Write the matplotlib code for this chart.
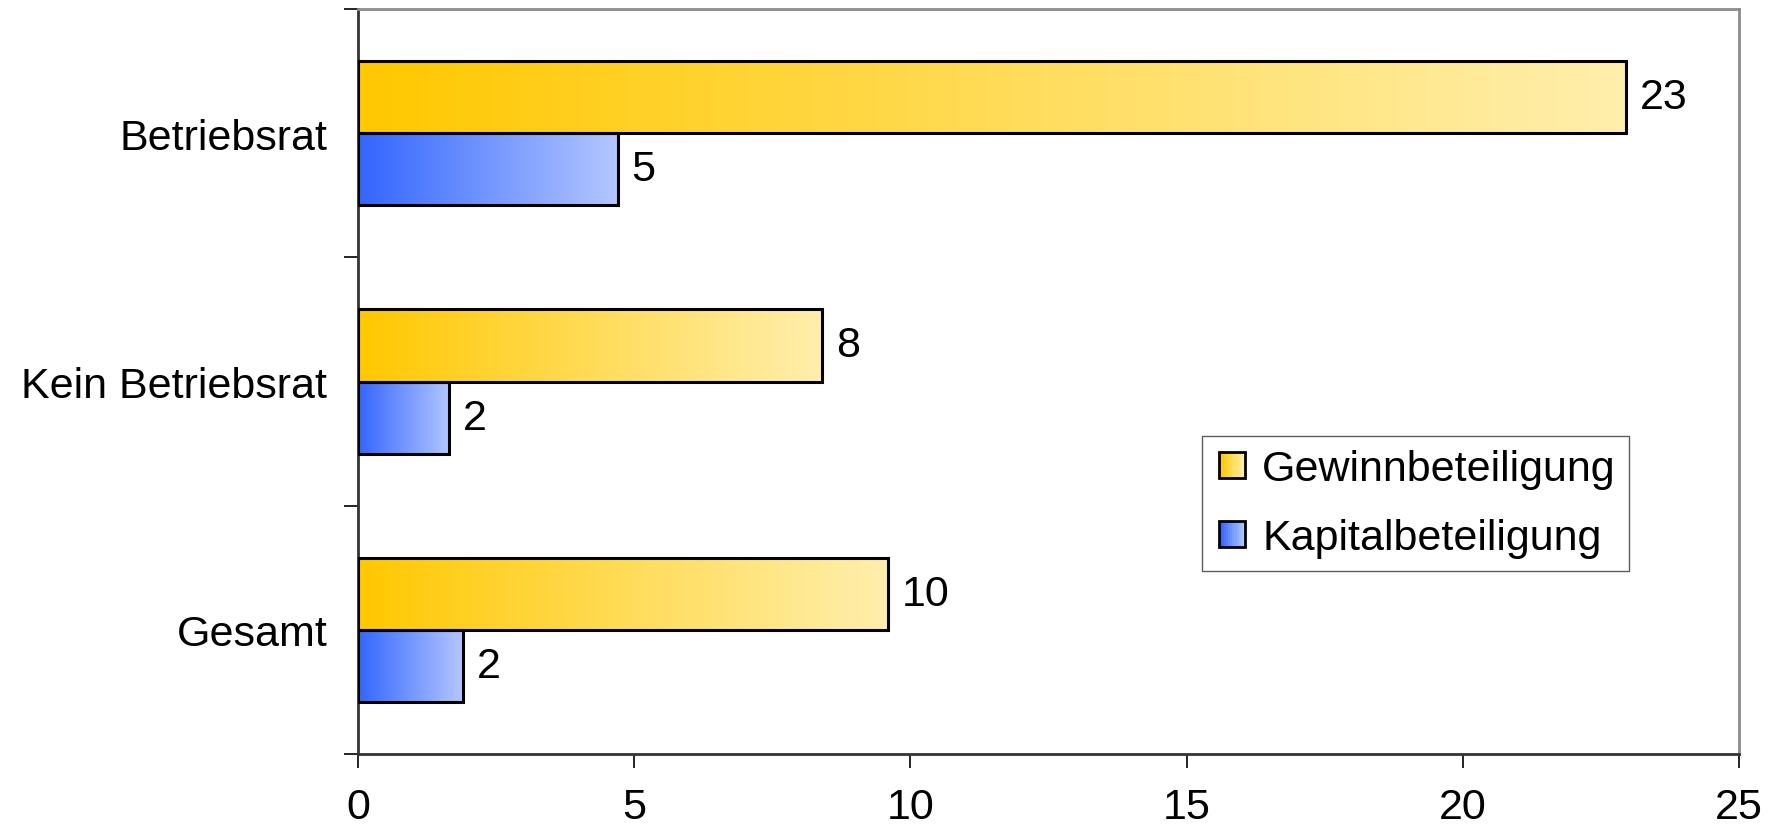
import matplotlib.pyplot as plt
import numpy as np
from matplotlib.colors import LinearSegmentedColormap
from matplotlib.legend_handler import HandlerBase
from matplotlib.patches import Rectangle

plt.rcParams['font.family'] = ['Liberation Sans', 'DejaVu Sans']

# Data (bottom to top as drawn)
categories = ["Gesamt", "Kein Betriebsrat", "Betriebsrat"]
gewinn = [9.6, 8.4, 22.95]
kapital = [1.9, 1.65, 4.7]
series_names = ["Gewinnbeteiligung", "Kapitalbeteiligung"]

gold_cmap = LinearSegmentedColormap.from_list("gold", ["#FFC800", "#FFEFAD"])
blue_cmap = LinearSegmentedColormap.from_list("blue", ["#3366FF", "#B3C6FF"])

FS = 31

fig = plt.figure(figsize=(17.75, 8.37), dpi=100)
ax = fig.add_axes([358 / 1775, 1 - 755 / 837, (1739 - 358) / 1775, (755 - 10) / 837])

y = np.arange(len(categories))
h = 0.29
grad = np.linspace(0, 1, 256).reshape(1, -1)


def gradient_bars(vals, offset, cmap):
    bars = ax.barh(y + offset, vals, height=h, facecolor="none",
                   edgecolor="black", linewidth=2.2, zorder=3)
    for r in bars:
        x0, y0 = r.get_x(), r.get_y()
        im = ax.imshow(grad, cmap=cmap, aspect="auto", zorder=2,
                       extent=(x0, x0 + r.get_width(), y0, y0 + r.get_height()))
        im.set_clip_path(r)
    return bars


gb = gradient_bars(gewinn, h / 2, gold_cmap)
kb = gradient_bars(kapital, -h / 2, blue_cmap)

for vals, offset in [(gewinn, h / 2), (kapital, -h / 2)]:
    for yi, v in zip(y, vals):
        ax.text(v + 0.25, yi + offset, str(int(round(v))), va="center",
                ha="left", fontsize=FS)

ax.set_xlim(0, 25)
ax.set_ylim(-0.5, 2.5)
ax.set_xticks(np.arange(0, 26, 5))
ax.set_yticks(np.arange(-0.5, 2.6, 1))
ax.set_yticklabels([])
ax.set_yticks(y, categories, minor=True)
ax.tick_params(axis="y", which="minor", length=0, pad=22, labelsize=FS)
ax.tick_params(axis="y", which="major", direction="out", length=10, width=1.2)
ax.tick_params(axis="x", direction="out", length=10, width=1.2, pad=14, labelsize=FS)

for s in ["top", "right"]:
    ax.spines[s].set_color("#8c8c8c")
    ax.spines[s].set_linewidth(2)
for s in ["left", "bottom"]:
    ax.spines[s].set_color("#333333")
    ax.spines[s].set_linewidth(2)


class GradientHandler(HandlerBase):
    def __init__(self, cmap):
        super().__init__()
        self.cmap = cmap

    def create_artists(self, legend, orig_handle, xdescent, ydescent,
                       width, height, fontsize, trans):
        side = height * 0.85
        x0 = width - side
        y0 = -ydescent + (height - side) / 2
        n = 12
        arts = []
        for i in range(n):
            arts.append(Rectangle((x0 + side * i / n, y0), side / n + 0.3, side,
                                  facecolor=self.cmap(i / (n - 1)), edgecolor="none",
                                  transform=trans))
        arts.append(Rectangle((x0, y0), side, side, facecolor="none",
                              edgecolor="black", linewidth=2, transform=trans))
        return arts


leg = ax.legend([gb, kb], series_names, loc="upper left",
                bbox_to_anchor=((1202 - 358) / (1739 - 358), (755 - 437) / (755 - 10)),
                fontsize=FS, frameon=True, fancybox=False, edgecolor="#333333",
                handlelength=0.7, handletextpad=0.4, labelspacing=0.68,
                borderpad=0.3, borderaxespad=0,
                handler_map={gb: GradientHandler(gold_cmap), kb: GradientHandler(blue_cmap)})
leg.get_frame().set_linewidth(1)

fig.savefig("out.png", dpi=100)
